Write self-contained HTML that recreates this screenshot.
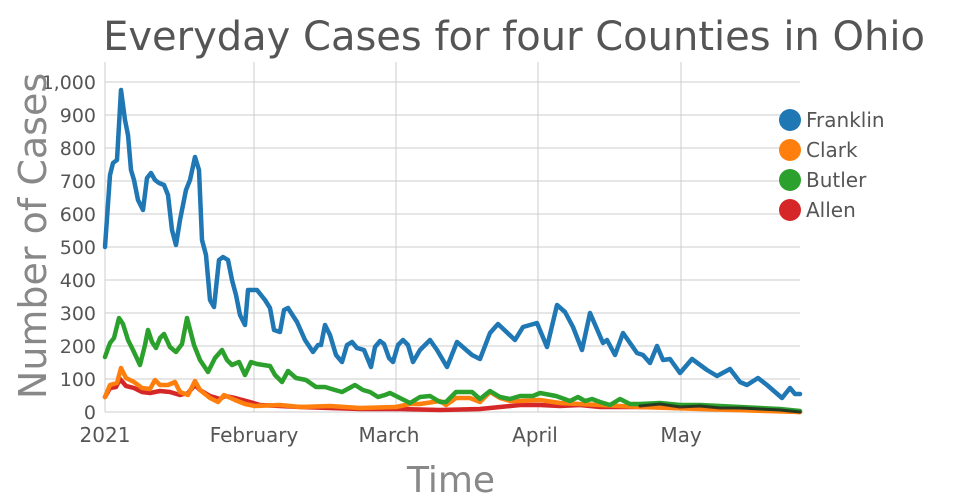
<!DOCTYPE html>
<html><head><meta charset="utf-8"><style>body{margin:0;background:#fff}svg{display:block;font-family:"DejaVu Sans","Liberation Sans",sans-serif}</style></head><body>
<svg width="960" height="500" viewBox="0 0 960 500">
<g stroke="#ccc" stroke-width="1">
<line x1="105" y1="82" x2="800" y2="82"/><line x1="105" y1="115" x2="800" y2="115"/><line x1="105" y1="148" x2="800" y2="148"/><line x1="105" y1="181" x2="800" y2="181"/><line x1="105" y1="214" x2="800" y2="214"/><line x1="105" y1="247" x2="800" y2="247"/><line x1="105" y1="280" x2="800" y2="280"/><line x1="105" y1="313" x2="800" y2="313"/><line x1="105" y1="346" x2="800" y2="346"/><line x1="105" y1="379" x2="800" y2="379"/><line x1="105" y1="412" x2="800" y2="412"/>
<line x1="254" y1="62" x2="254" y2="412"/><line x1="396" y1="62" x2="396" y2="412"/><line x1="538" y1="62" x2="538" y2="412"/><line x1="681" y1="62" x2="681" y2="412"/>
<line x1="105" y1="62" x2="105" y2="412"/>
</g>
<g fill="none" stroke-width="4.5" stroke-linejoin="round" stroke-linecap="round">
<polyline stroke="#d62728" points="105,397 110,388 116,387 120,379 126,386 134,388 142,392 150,393 160,391 170,392 180,395 188,393 195,385 200,390 210,396 220,399 225,396 235,398 250,402 260,405 280,406 300,407 330,408 360,409 400,409 440,410 480,409 500,407 520,405 540,405 560,406 580,405 600,407 660,407 700,408 760,410 800,412"/>
<polyline stroke="#ff7f0e" points="105,397 110,385 117,383 121,368 126,378 134,382 142,388 150,389 155,380 160,385 168,385 175,382 180,392 188,395 195,381 200,390 210,398 218,402 224,395 235,400 245,404 255,406 280,405 300,407 330,406 360,408 396,407 410,404 420,404 440,401 446,405 456,398 470,398 480,402 490,392 500,398 510,401 520,401 540,400 560,403 600,405 640,407 700,409 800,412"/>
<polyline stroke="#2ca02c" points="105,357 110,343 114,338 119,318 123,324 128,340 133,350 140,365 145,345 148,330 152,342 156,348 160,338 164,334 170,347 176,352 182,344 187,318 194,345 200,360 208,372 215,358 222,350 227,360 232,365 239,362 245,375 251,362 257,364 270,366 275,375 282,382 288,371 296,378 306,380 316,387 325,387 335,390 342,392 355,385 363,390 370,392 378,397 385,395 390,393 400,398 410,403 420,397 430,396 440,402 446,402 456,392 472,392 480,399 490,391 500,397 510,399 520,396 533,396 540,393 556,396 570,401 578,397 585,401 592,399 600,402 610,405 620,399 630,404 640,404 660,403 680,405 700,405 720,406 740,407 760,408 780,409 800,411"/>
<polyline stroke="#222" stroke-width="3" stroke-opacity="0.8" points="640,406 660,404 680,407 700,406 720,408 740,408 760,409 780,410 800,412"/>
<polyline stroke="#1f77b4" points="105,247 110,175 113,163 117,160 121,90 125,120 128,135 131,170 134,180 138,200 143,210 147,178 151,173 155,180 159,183 164,185 168,195 172,230 176,245 180,220 186,190 190,180 195,157 199,170 202,240 206,255 210,300 214,307 219,260 223,257 228,260 232,280 236,295 240,315 245,325 248,290 254,290 257,290 265,300 270,308 274,330 280,332 284,310 288,308 297,322 305,340 313,352 318,345 321,345 325,325 330,335 336,355 342,362 347,345 352,342 357,348 364,350 371,367 375,347 380,341 384,344 389,358 393,362 398,345 403,340 408,345 413,362 420,350 430,340 437,350 447,367 457,342 472,355 480,359 490,333 498,324 515,340 523,327 537,323 547,347 557,305 565,312 573,327 582,350 590,313 603,343 607,340 615,355 623,333 637,353 643,355 650,363 657,346 663,360 670,359 680,373 692,359 707,370 717,376 730,369 740,382 747,385 758,378 767,385 782,398 790,388 795,394 800,394"/>
</g>
<g fill="#555" font-size="19" text-anchor="end">
<text x="96" y="89">1,000</text><text x="96" y="122">900</text><text x="96" y="155">800</text><text x="96" y="188">700</text><text x="96" y="221">600</text><text x="96" y="254">500</text><text x="96" y="287">400</text><text x="96" y="320">300</text><text x="96" y="353">200</text><text x="96" y="386">100</text><text x="96" y="419">0</text>
</g>
<g fill="#555" font-size="20" text-anchor="middle">
<text x="105" y="442">2021</text><text x="254" y="442">February</text><text x="389" y="442">March</text><text x="535" y="442">April</text><text x="681" y="442">May</text>
</g>
<text x="514" y="50" fill="#555" font-size="40" text-anchor="middle">Everyday Cases for four Counties in Ohio</text>
<text x="451" y="492" fill="#888" font-size="36" text-anchor="middle">Time</text>
<text transform="translate(46,236) rotate(-90)" fill="#888" font-size="38" text-anchor="middle">Number of Cases</text>
<g font-size="20" fill="#555">
<circle cx="790" cy="120" r="11" fill="#1f77b4"/><text x="806" y="127">Franklin</text>
<circle cx="790" cy="150" r="11" fill="#ff7f0e"/><text x="806" y="157">Clark</text>
<circle cx="790" cy="180" r="11" fill="#2ca02c"/><text x="806" y="187">Butler</text>
<circle cx="790" cy="210" r="11" fill="#d62728"/><text x="806" y="217">Allen</text>
</g>
</svg>
</body></html>
